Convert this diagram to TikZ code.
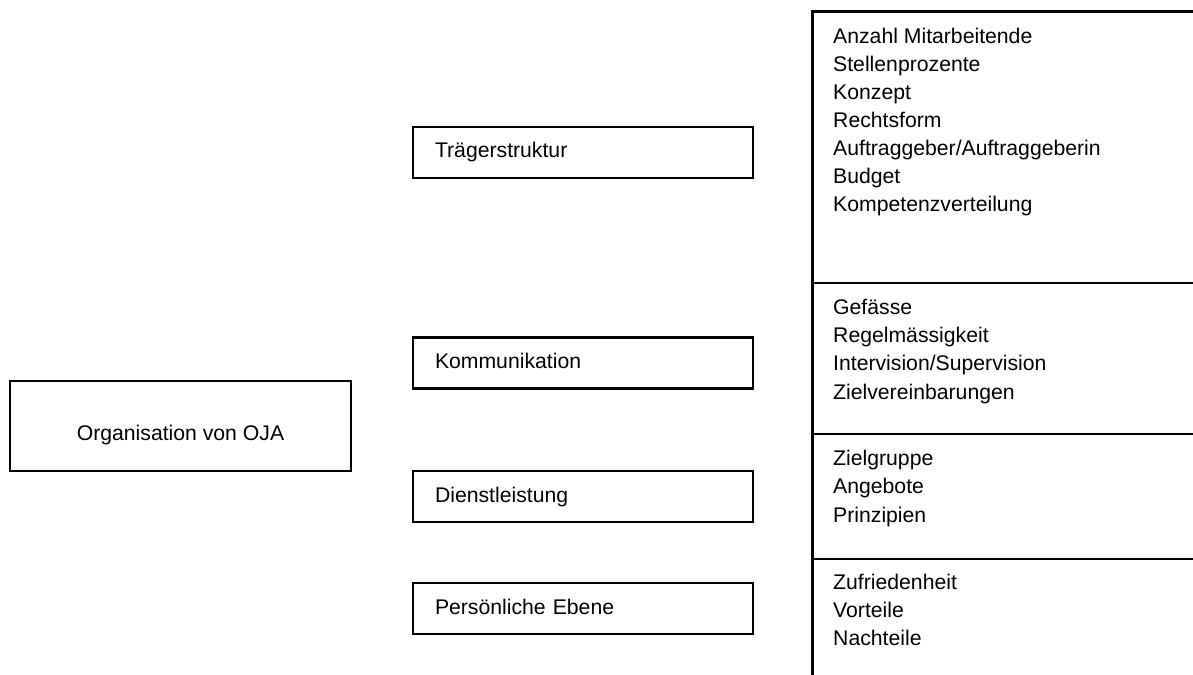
\documentclass[tikz,border=0pt]{standalone}
\usepackage{fontspec}
\setmainfont{Liberation Sans}
\begin{document}
\begin{tikzpicture}[x=1bp,y=-1bp,
  txt/.style={font=\fontsize{21.2bp}{28bp}\selectfont},
  frameline/.style={line width=2.8bp},
  box/.style={draw, frameline, txt, inner ysep=0pt, text height=16bp, text depth=5bp},
  catbox/.style={box, text width=296bp, inner xsep=22bp, minimum height=51bp, align=left},
  rootbox/.style={box, minimum width=341bp, minimum height=90bp, text height=33bp, align=center},
  item/.style={txt, inner sep=0pt, anchor=base west}]
\useasboundingbox (0,0) rectangle (1193,675);

% left root box
\node[rootbox] (root) at (180.5,426) {Organisation von OJA};

% category boxes
\node[catbox] (traeger) at (583,152.5) {Trägerstruktur};
\node[catbox] (komm) at (583,363) {Kommunikation};
\node[catbox] (dienst) at (583,496.5) {Dienstleistung};
\node[catbox] (pers) at (583,608.5) {Persönliche Ebene};

% right column frame
\coordinate (cTR) at (1193,11.5);
\coordinate (cTL) at (812.5,11.5);
\coordinate (cB) at (812.5,675);
\draw[frameline] (cTR) -- (cTL) -- (cB);
\coordinate (s1L) at (812.5,283);  \coordinate (s1R) at (1193,283);
\coordinate (s2L) at (812.5,434);  \coordinate (s2R) at (1193,434);
\coordinate (s3L) at (812.5,559);  \coordinate (s3R) at (1193,559);
\draw[frameline] (s1L) -- (s1R);
\draw[frameline] (s2L) -- (s2R);
\draw[frameline] (s3L) -- (s3R);

% items group 1
\node[item] (a1) at (833,44) {Anzahl Mitarbeitende};
\node[item] (a2) at (833,72) {Stellenprozente};
\node[item] (a3) at (833,100) {Konzept};
\node[item] (a4) at (833,128) {Rechtsform};
\node[item] (a5) at (833,156) {Auftraggeber/Auftraggeberin};
\node[item] (a6) at (833,184) {Budget};
\node[item] (a7) at (833,212) {Kompetenzverteilung};

% items group 2
\node[item] (b1) at (833,314) {Gefässe};
\node[item] (b2) at (833,342) {Regelmässigkeit};
\node[item] (b3) at (833,370) {Intervision/Supervision};
\node[item] (b4) at (833,399) {Zielvereinbarungen};

% items group 3
\node[item] (c1) at (833,465) {Zielgruppe};
\node[item] (c2) at (833,493) {Angebote};
\node[item] (c3) at (833,522) {Prinzipien};

% items group 4
\node[item] (d1) at (833,589) {Zufriedenheit};
\node[item] (d2) at (833,617) {Vorteile};
\node[item] (d3) at (833,645) {Nachteile};
\end{tikzpicture}
\end{document}
